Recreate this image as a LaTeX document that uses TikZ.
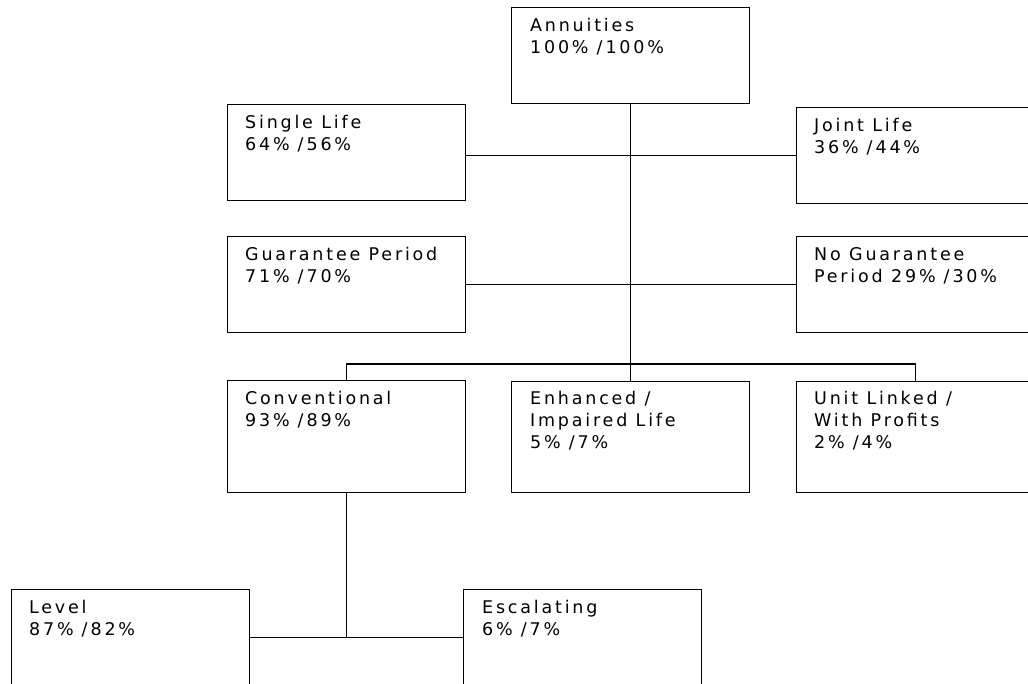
\documentclass[tikz,border=0pt]{standalone}
\usepackage{fontspec}
\newfontfamily\lblfont{DejaVu Sans}[LetterSpace=16]
\newcommand\pslash{\kern5pt/\kern3pt}
\newcommand\pc{\%\kern3pt}
\begin{document}
\begin{tikzpicture}[x=1pt,y=-1pt,
  box/.style={draw=black,line width=1.2pt,rectangle,anchor=north west,inner sep=0pt,minimum width=238pt,minimum height=96pt},
  lbl/.style={anchor=north west,inner sep=0pt,align=left,font=\lblfont\fontsize{17.5}{22}\selectfont},
  conn/.style={draw=black,line width=1.2pt}]
\clip (0,0) rectangle (1028,683);
\fill[white] (0,0) rectangle (1028,683);
\node[box] (root) at (511,7) {};
\node[box] (single) at (227,104) {};
\node[box] (joint) at (796,107) {};
\node[box] (guar) at (227,236) {};
\node[box] (noguar) at (796,236) {};
\node[box,minimum height=112pt] (conv) at (227,380) {};
\node[box,minimum height=111pt] (enh) at (511,381) {};
\node[box,minimum height=111pt] (unit) at (796,381) {};
\node[box] (level) at (11,589) {};
\node[box] (esc) at (463,589) {};
\node[lbl] (troot) at ([shift={(19,11)}]root.north west) {Annuities\\100\pc\pslash100\pc};
\node[lbl] (tsingle) at ([shift={(18,11)}]single.north west) {Single Life\\64\pc\pslash56\pc};
\node[lbl] (tjoint) at ([shift={(18,11)}]joint.north west) {Joint Life\\36\pc\pslash44\pc};
\node[lbl] (tguar) at ([shift={(18,11)}]guar.north west) {Guarantee Period\\71\pc\pslash70\pc};
\node[lbl] (tnoguar) at ([shift={(18,11)}]noguar.north west) {No Guarantee\\Period 29\pc\pslash30\pc};
\node[lbl] (tconv) at ([shift={(18,11)}]conv.north west) {Conventional\\93\pc\pslash89\pc};
\node[lbl] (tenh) at ([shift={(19,10)}]enh.north west) {Enhanced /\\Impaired Life\\5\pc\pslash7\pc};
\node[lbl] (tunit) at ([shift={(18,10)}]unit.north west) {Unit Linked /\\With Profits\\2\pc\pslash4\pc};
\node[lbl] (tlevel) at ([shift={(18,11)}]level.north west) {Level\\87\pc\pslash82\pc};
\node[lbl] (tesc) at ([shift={(19,11)}]esc.north west) {Escalating\\6\pc\pslash7\pc};
\draw[conn] (root.south) -- (enh.north);
\draw[conn] (joint.west) -- (single.east |- joint.west);
\draw[conn] (guar.east) -- (noguar.west);
\draw[conn] (conv.north) -- ++(0,-16) -| (unit.north);
\draw[conn] (conv.south) -- (conv.south |- level.east);
\draw[conn] (level.east) -- (esc.west);
\end{tikzpicture}
\end{document}
